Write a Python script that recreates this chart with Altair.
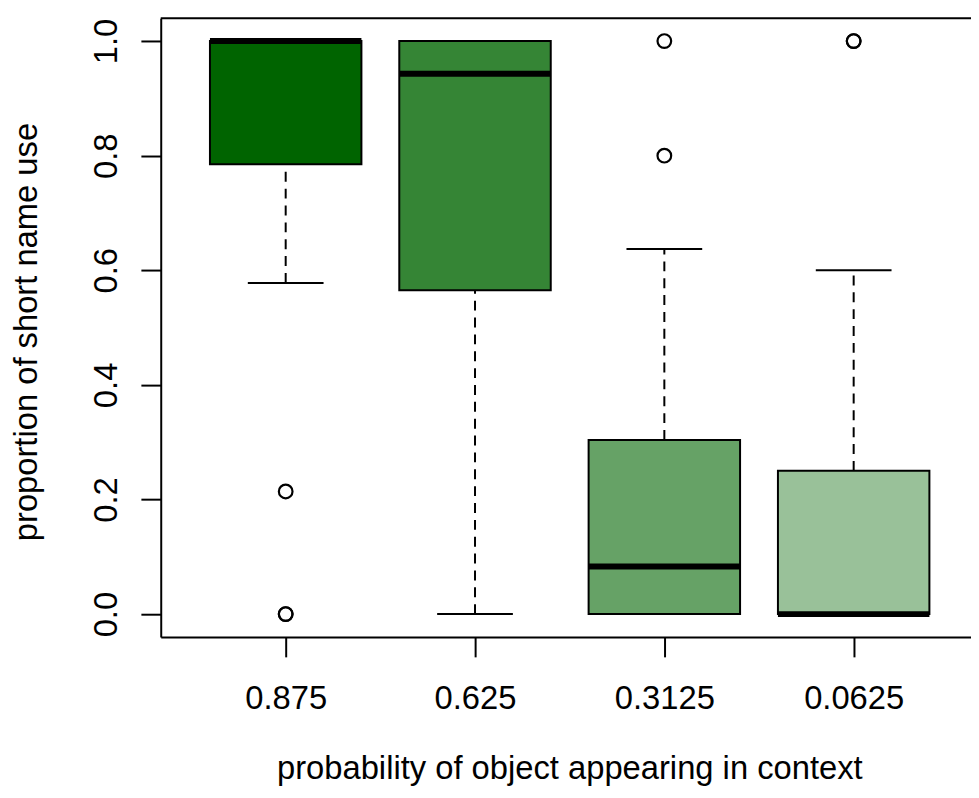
import json
import altair as alt
import pandas as pd

# ---- data ----
groups = ["0.875", "0.625", "0.3125", "0.0625"]
lower_whisker = [0.578, 0.0, 0.0, 0.0]
q1 = [0.785, 0.565, 0.0, 0.0]
median = [1.0, 0.943, 0.083, 0.0]
q3 = [1.0, 1.0, 0.304, 0.25]
upper_whisker = [1.0, 1.0, 0.637, 0.6]
outlier_group = ["0.875", "0.875", "0.875", "0.3125", "0.3125", "0.0625", "0.0625"]
outlier_value = [0.214, 0.0, 0.0, 0.8, 1.0, 1.0, 1.0]
fill_colors = ["#006400", "#358535", "#66A266", "#99C199"]
y_ticks = [0.0, 0.2, 0.4, 0.6, 0.8, 1.0]

# ---- tables ----
pos_of = {g: i + 1 for i, g in enumerate(groups)}
box = pd.DataFrame({
    "group": groups,
    "pos": [pos_of[g] for g in groups],
    "lo": lower_whisker,
    "q1": q1,
    "med": median,
    "q3": q3,
    "hi": upper_whisker,
})
out = pd.DataFrame({"group": outlier_group, "value": outlier_value})
out["pos"] = out["group"].map(pos_of)

FONT = "Liberation Sans"
W, H = 817, 624
XMIN = 0.34
XMAX = XMIN + W / 190.9

xscale = alt.Scale(domain=[XMIN, XMAX], nice=False, zero=False)
yscale = alt.Scale(domain=[-0.04, 1.04], nice=False, zero=False)

xaxis = alt.Axis(
    values=[1, 2, 3, 4],
    labelExpr=json.dumps(groups) + "[datum.value - 1]",
    title="probability of object appearing in context",
    grid=False,
    domain=True, domainColor="black", domainWidth=2,
    ticks=True, tickColor="black", tickWidth=2, tickSize=20,
    labelFont=FONT, labelFontSize=33, labelColor="black",
    labelBaseline="alphabetic", labelPadding=52, labelFlush=False,
    labelOverlap=False,
    titleFont=FONT, titleFontSize=33, titleFontWeight="normal",
    titleColor="black", titleX=412, titleY=143, titleAlign="center",
    titleBaseline="alphabetic",
)
yaxis = alt.Axis(
    values=y_ticks,
    format=".1f",
    title="proportion of short name use",
    grid=False,
    domain=True, domainColor="black", domainWidth=2,
    ticks=True, tickColor="black", tickWidth=2, tickSize=20,
    labelFont=FONT, labelFontSize=33, labelColor="black",
    labelAngle=270, labelAlign="center", labelBaseline="alphabetic",
    labelPadding=25, labelFlush=False, labelOverlap=False,
    titleFont=FONT, titleFontSize=33, titleFontWeight="normal",
    titleColor="black", titleAngle=270, titleX=-125, titleY=316,
    titleAlign="center", titleBaseline="alphabetic",
)

base = alt.Chart(box).transform_calculate(
    left="datum.pos - 0.4",
    right="datum.pos + 0.4",
    sl="datum.pos - 0.2",
    sr="datum.pos + 0.2",
)

whisk_up = base.mark_rule(color="black", strokeWidth=2, strokeDash=[10, 7]).encode(
    x=alt.X("pos:Q", scale=xscale, axis=xaxis),
    y=alt.Y("q3:Q", scale=yscale, axis=yaxis),
    y2="hi:Q",
)
whisk_lo = base.mark_rule(color="black", strokeWidth=2, strokeDash=[10, 7]).encode(
    x=alt.X("pos:Q", scale=xscale, axis=xaxis),
    y=alt.Y("lo:Q", scale=yscale, axis=yaxis),
    y2="q1:Q",
)
staple_up = base.mark_rule(color="black", strokeWidth=2).encode(
    x=alt.X("sl:Q", scale=xscale, axis=xaxis),
    x2="sr:Q",
    y=alt.Y("hi:Q", scale=yscale, axis=yaxis),
)
staple_lo = base.mark_rule(color="black", strokeWidth=2).encode(
    x=alt.X("sl:Q", scale=xscale, axis=xaxis),
    x2="sr:Q",
    y=alt.Y("lo:Q", scale=yscale, axis=yaxis),
)
rects = base.mark_rect(stroke="black", strokeWidth=2).encode(
    x=alt.X("left:Q", scale=xscale, axis=xaxis),
    x2="right:Q",
    y=alt.Y("q1:Q", scale=yscale, axis=yaxis),
    y2="q3:Q",
    fill=alt.Fill("group:N", scale=alt.Scale(domain=groups, range=fill_colors), legend=None),
)
medians = base.mark_rule(color="black", strokeWidth=6).encode(
    x=alt.X("left:Q", scale=xscale, axis=xaxis),
    x2="right:Q",
    y=alt.Y("med:Q", scale=yscale, axis=yaxis),
)
points = alt.Chart(out).mark_point(
    shape="circle", filled=False, stroke="black", strokeWidth=2.2, size=190, opacity=1
).encode(
    x=alt.X("pos:Q", scale=xscale, axis=xaxis),
    y=alt.Y("value:Q", scale=yscale, axis=yaxis),
)
top_frame = alt.Chart(pd.DataFrame({"k": [0]})).mark_rule(color="black", strokeWidth=2).encode(
    x=alt.value(0), x2=alt.value(W), y=alt.value(0)
)

chart = alt.layer(
    whisk_up, whisk_lo, staple_up, staple_lo, rects, medians, points, top_frame
).properties(
    width=W,
    height=H,
    autosize=alt.AutoSizeParams(type="none"),
    padding={"left": 154, "top": 7, "right": 0, "bottom": 151},
    background="white",
).configure_view(stroke=None)

chart.save("out.html", embed_options={"renderer": "svg", "actions": False})
